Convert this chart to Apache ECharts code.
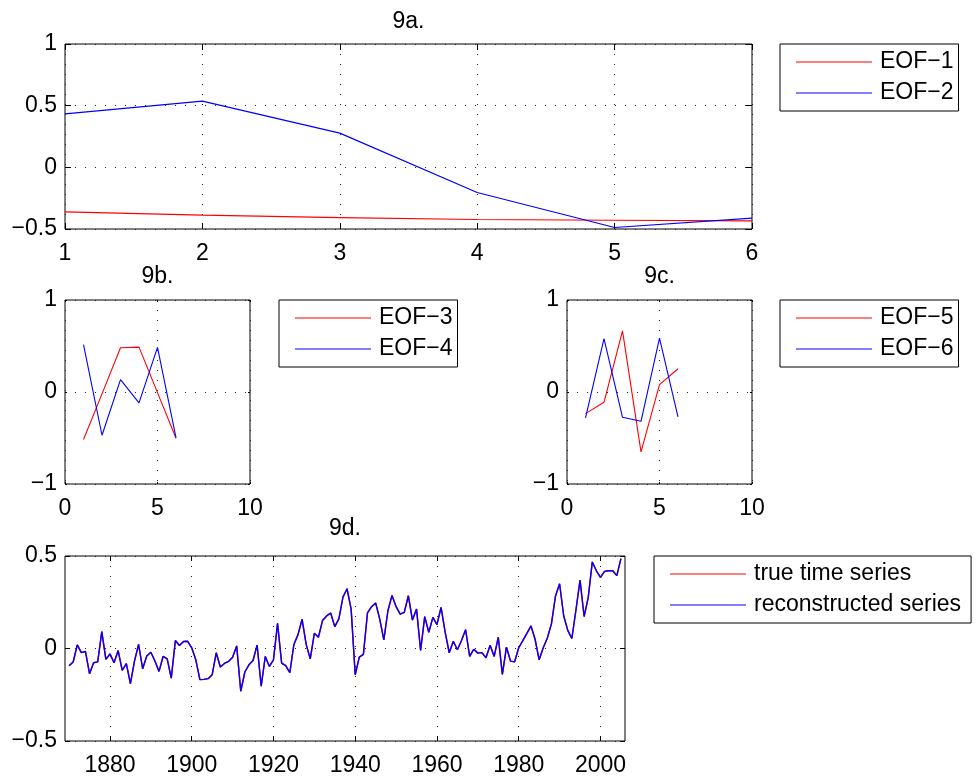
<!DOCTYPE html>
<html>
<head>
<meta charset="utf-8">
<title>EOF decomposition</title>
<script src="https://cdn.jsdelivr.net/npm/echarts@6.0.0/dist/echarts.min.js"></script>
<style>
    html, body { margin: 0; padding: 0; background: #fff; }
    #chart { width: 976px; height: 777px; }
</style>
</head>
<body>
<div id="chart"></div>
<script>
// EOF loadings (panels 9a-9c)
const eofX = [1, 2, 3, 4, 5, 6];
const eof1 = [-0.361, -0.388, -0.407, -0.423, -0.429, -0.434];
const eof2 = [0.434, 0.537, 0.277, -0.204, -0.488, -0.412];
const eof3 = [-0.517, -0.020, 0.481, 0.488, -0.007, -0.503];
const eof4 = [0.514, -0.470, 0.134, -0.119, 0.485, -0.495];
const eof5 = [-0.235, -0.112, 0.665, -0.651, 0.080, 0.253];
const eof6 = [-0.282, 0.579, -0.275, -0.318, 0.586, -0.271];

// time series (panel 9d), one value per year from firstYear
const firstYear = 1870;
const trueSeries = [
    -0.093, -0.073, 0.020, -0.022, -0.016, -0.136, -0.077, -0.072, 0.091, -0.059,
    -0.029, -0.077, -0.011, -0.118, -0.081, -0.190, -0.068, 0.022, -0.109, -0.041,
    -0.020, -0.068, -0.124, -0.043, -0.056, -0.160, 0.043, 0.016, 0.038, 0.039,
    0.004, -0.061, -0.168, -0.167, -0.163, -0.142, -0.023, -0.100, -0.081, -0.070,
    -0.047, 0.014, -0.231, -0.127, -0.088, -0.065, 0.018, -0.204, -0.043, -0.097,
    -0.061, 0.136, -0.079, -0.093, -0.131, 0.022, 0.075, 0.158, 0.022, -0.056,
    0.082, 0.061, 0.151, 0.176, 0.192, 0.118, 0.160, 0.278, 0.323, 0.213,
    -0.142, -0.047, -0.032, 0.192, 0.226, 0.246, 0.159, 0.047, 0.204, 0.287,
    0.226, 0.186, 0.195, 0.285, 0.154, 0.213, -0.011, 0.172, 0.088, 0.168,
    0.129, 0.222, 0.088, -0.023, 0.039, -0.007, 0.043, 0.102, -0.043, -0.004,
    -0.025, -0.022, -0.050, 0.018, -0.043, 0.061, -0.140, 0.007, -0.068, -0.072,
    0.004, 0.043, 0.082, 0.122, 0.050, -0.061, 0.004, 0.057, 0.133, 0.284,
    0.350, 0.177, 0.098, 0.054, 0.208, 0.370, 0.173, 0.275, 0.468, 0.420,
    0.384, 0.417, 0.420, 0.420, 0.394, 0.486
];
// the reconstruction lies exactly on top of the true series in the figure
const reconSeries = trueSeries.slice();

const yearTicks = [1880, 1900, 1920, 1940, 1960, 1980, 2000];
const panelTitles = ['9a.', '9b.', '9c.', '9d.'];

const FONT = "'Liberation Sans', Arial, Helvetica, sans-serif";
const FONT_SIZE = 23;
const RED = '#ff0000';
const BLUE = '#0000ff';

const grids = [
    { left: 65, top: 44, width: 687, height: 185 },
    { left: 65, top: 300, width: 185, height: 184 },
    { left: 567, top: 300, width: 185, height: 184 },
    { left: 65, top: 556, width: 560, height: 185 }
];
const xRanges = [
    { min: 1, max: 6, interval: 1 },
    { min: 0, max: 10, interval: 5 },
    { min: 0, max: 10, interval: 5 },
    { min: 1869, max: 2006, ticks: yearTicks }
];
const yRanges = [
    { min: -0.5, max: 1, interval: 0.5 },
    { min: -1, max: 1, interval: 1 },
    { min: -1, max: 1, interval: 1 },
    { min: -0.5, max: 0.5, interval: 0.5 }
];
const tickLen = [6, 2, 2, 5];

function minus(v) {
    return String(v).replace('-', '\u2212');
}

function pairs(xs, ys) {
    return ys.map((y, i) => [xs[i], y]);
}

function yearPairs(values) {
    return values.map((v, i) => [firstYear + i, v]);
}

function makeAxis(i, range, position, main) {
    const axis = {
        type: 'value',
        gridIndex: i,
        position: position,
        min: range.min,
        max: range.max,
        axisLine: { show: false, onZero: false },
        axisTick: { show: true, inside: true, length: tickLen[i], lineStyle: { color: '#000', width: 1 } },
        axisLabel: {
            show: main,
            color: '#000',
            fontSize: FONT_SIZE,
            fontFamily: FONT,
            margin: position === 'left' ? 8 : 13,
            formatter: minus
        },
        splitLine: { show: main, lineStyle: { color: '#222', width: 1, type: [1, 9] } }
    };
    if (range.ticks) {
        axis.axisTick.customValues = range.ticks;
        axis.axisLabel.customValues = range.ticks;
    } else {
        axis.interval = range.interval;
    }
    return axis;
}

const xAxes = [];
const yAxes = [];
grids.forEach((g, i) => {
    xAxes.push(makeAxis(i, xRanges[i], 'bottom', true));
    yAxes.push(makeAxis(i, yRanges[i], 'left', true));
});
// mirrored ticks on the top and right edges of each box
grids.forEach((g, i) => {
    xAxes.push(makeAxis(i, xRanges[i], 'top', false));
    yAxes.push(makeAxis(i, yRanges[i], 'right', false));
});

function lineSeries(name, color, data, idx, width) {
    return {
        name: name,
        type: 'line',
        xAxisIndex: idx,
        yAxisIndex: idx,
        data: data,
        symbol: 'none',
        silent: true,
        lineStyle: { color: color, width: width },
        itemStyle: { color: color }
    };
}

const series = [
    lineSeries('EOF\u22121', RED, pairs(eofX, eof1), 0, 1.2),
    lineSeries('EOF\u22122', BLUE, pairs(eofX, eof2), 0, 1.2),
    lineSeries('EOF\u22123', RED, pairs(eofX, eof3), 1, 1.1),
    lineSeries('EOF\u22124', BLUE, pairs(eofX, eof4), 1, 1.1),
    lineSeries('EOF\u22125', RED, pairs(eofX, eof5), 2, 1.1),
    lineSeries('EOF\u22126', BLUE, pairs(eofX, eof6), 2, 1.1),
    lineSeries('true time series', RED, yearPairs(trueSeries), 3, 1.4),
    lineSeries('reconstructed series', BLUE, yearPairs(reconSeries), 3, 1.4)
];

const legendBoxes = [
    { names: ['EOF\u22121', 'EOF\u22122'], left: 780, top: 44, right: 5 },
    { names: ['EOF\u22123', 'EOF\u22124'], left: 279, top: 300, right: 5 },
    { names: ['EOF\u22125', 'EOF\u22126'], left: 780, top: 300, right: 5 },
    { names: ['true time series', 'reconstructed series'], left: 654, top: 556, right: 10 }
];

const legends = legendBoxes.map(b => ({
    data: b.names,
    orient: 'vertical',
    left: b.left,
    top: b.top,
    padding: [6, b.right, 6, 16],
    icon: 'rect',
    itemWidth: 76,
    itemHeight: 1,
    itemGap: 7,
    selectedMode: false,
    borderColor: '#000',
    borderWidth: 1,
    borderRadius: 0,
    backgroundColor: '#fff',
    textStyle: {
        color: '#000',
        fontSize: FONT_SIZE,
        fontFamily: FONT,
        lineHeight: 24,
        padding: [0, 0, 0, 3]
    }
}));

const titleTops = [10, 265, 265, 517];
const titles = panelTitles.map((t, i) => ({
    text: t,
    left: grids[i].left + grids[i].width / 2,
    top: titleTops[i],
    textAlign: 'center',
    padding: 0,
    textStyle: { color: '#000', fontSize: FONT_SIZE, fontWeight: 'normal', fontFamily: FONT }
}));

const chart = echarts.init(document.getElementById('chart'));
chart.setOption({
    animation: false,
    backgroundColor: '#fff',
    title: titles,
    legend: legends,
    grid: grids.map(g => Object.assign({
        show: true,
        borderColor: '#000',
        borderWidth: 1,
        backgroundColor: 'transparent',
        containLabel: false
    }, g)),
    xAxis: xAxes,
    yAxis: yAxes,
    series: series
});
</script>
</body>
</html>
